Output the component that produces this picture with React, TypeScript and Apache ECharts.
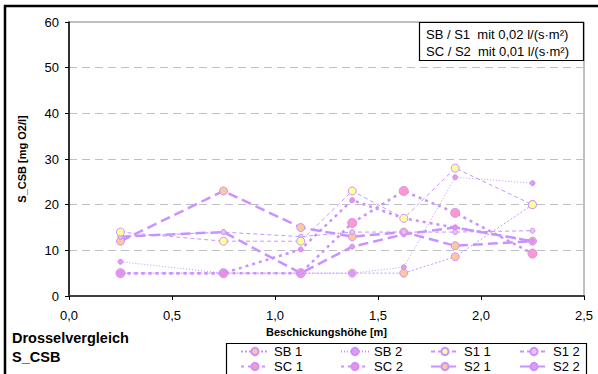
import React, { useEffect, useRef } from "react";
import * as echarts from "echarts";

const xValues = [0.25, 0.75, 1.125, 1.375, 1.625, 1.875, 2.25];
const seriesNames = ["SB 1", "SB 2", "S1 1", "S1 2", "SC 1", "SC 2", "S2 1", "S2 2"];
const sb1 = [5, 5, 5, 5, 5, 8.6, 20];
const sb2 = [7.5, 5, 5, 5, 6.3, 26, 24.7];
const s11 = [14, 12, 12, 23, 17, 28, 20];
const s12 = [13, 14, 13, 14, 14, 14, 14.3];
const sc1 = [5, 5, 5, 16, 23, 18.2, 9.3];
const sc2 = [5, 5, 10.2, 21, 17, 15, 12];
const s21 = [12, 23, 15, 13, 14, 11, 12];
const s22 = [13, 14, 5, 10.8, 13.5, 15, 12];
const yTicks = [0, 10, 20, 30, 40, 50, 60];
const xTicks = [0, 0.5, 1, 1.5, 2, 2.5];

const LILAC = "#c993ff";
const FONT = "Liberation Sans, Arial, sans-serif";

export default function App() {
  const ref = useRef<HTMLDivElement>(null);
  useEffect(() => {
    if (!ref.current) return;
    const chart = echarts.init(ref.current, null, { renderer: "svg" });
    const pair = (ys: number[]) => xValues.map((x, i) => [x, ys[i]]);
    const mk = (
      name: string,
      ys: number[],
      width: number,
      dash: number[] | string,
      size: number,
      fill: string,
      z: number
    ) => ({
      name,
      type: "line",
      data: pair(ys),
      symbol: "circle",
      symbolSize: size,
      z,
      lineStyle: { color: LILAC, width, type: dash },
      itemStyle: { color: fill, borderColor: LILAC, borderWidth: 1 },
    });
    const series = [
      mk(seriesNames[0], sb1, 1, [2, 2], 8, "#ffc89a", 2),
      mk(seriesNames[1], sb2, 1, [1, 2], 5, "#e59ae8", 3),
      mk(seriesNames[2], s11, 1, [4, 3], 8, "#ffff99", 4),
      mk(seriesNames[3], s12, 1, [4, 3], 5, "#f0c0f0", 3),
      mk(seriesNames[4], sc1, 2.5, [3, 4], 9, "#ff99cc", 2),
      mk(seriesNames[5], sc2, 2.5, [3, 4], 5, "#f08ee0", 3),
      mk(seriesNames[6], s21, 2.5, [10, 5], 8, "#ffc89a", 2),
      mk(seriesNames[7], s22, 2.5, [10, 5], 5, "#e59ae8", 2),
    ];
    const legendBase = {
      orient: "vertical",
      top: 345,
      itemWidth: 28,
      itemHeight: 9,
      itemGap: 2,
      textStyle: { fontFamily: FONT, fontSize: 13, color: "#000" },
      padding: 0,
    };
    chart.setOption({
      animation: false,
      backgroundColor: "#fff",
      grid: {
        left: 69,
        top: 22,
        right: 14,
        bottom: 78,
        show: true,
        borderColor: "#808080",
        borderWidth: 1,
      },
      xAxis: {
        type: "value",
        min: xTicks[0],
        max: xTicks[xTicks.length - 1],
        interval: 0.5,
        name: "Beschickungshöhe [m]",
        nameLocation: "middle",
        nameGap: 29,
        nameTextStyle: { fontFamily: FONT, fontSize: 11, fontWeight: "bold", color: "#000" },
        axisLine: { lineStyle: { color: "#404040", width: 2 } },
        axisTick: { show: true, length: 4, inside: false, lineStyle: { color: "#000" } },
        axisLabel: {
          fontFamily: FONT,
          fontSize: 13,
          color: "#000",
          margin: 13,
          formatter: (v: number) => v.toFixed(1).replace(".", ","),
        },
        splitLine: { show: false },
      },
      yAxis: {
        type: "value",
        min: yTicks[0],
        max: yTicks[yTicks.length - 1],
        interval: 10,
        name: "S_CSB [mg O2/l]",
        nameLocation: "middle",
        nameGap: 42,
        nameTextStyle: { fontFamily: FONT, fontSize: 11, fontWeight: "bold", color: "#000" },
        axisLine: { show: true, lineStyle: { color: "#000", width: 1.5 } },
        axisTick: { show: true, length: 4, lineStyle: { color: "#000" } },
        axisLabel: { fontFamily: FONT, fontSize: 13, color: "#000", margin: 10 },
        splitLine: { show: true, lineStyle: { color: "#c0c0c0", type: [8, 5], width: 1 } },
      },
      legend: [
        { ...legendBase, left: 240, data: [seriesNames[0], seriesNames[4]] },
        { ...legendBase, left: 340, data: [seriesNames[1], seriesNames[5]] },
        { ...legendBase, left: 430, data: [seriesNames[2], seriesNames[6]] },
        { ...legendBase, left: 519, data: [seriesNames[3], seriesNames[7]] },
      ],
      graphic: [
        {
          type: "rect",
          shape: { x: 5, y: 6, width: 700, height: 500 },
          style: { fill: "none", stroke: "#000", lineWidth: 2.5 },
          silent: true,
          z: 100,
        },
        {
          type: "rect",
          shape: { x: 226.5, y: 343.5, width: 360, height: 60 },
          style: { fill: "none", stroke: "#000", lineWidth: 1.2 },
          silent: true,
          z: 100,
        },
        {
          type: "rect",
          shape: { x: 419.5, y: 22.5, width: 164, height: 38 },
          style: { fill: "#fff", stroke: "#000", lineWidth: 1.2 },
          z: 100,
        },
        {
          type: "text",
          x: 426,
          y: 34,
          z: 101,
          style: {
            text: "SB / S1  mit 0,02 l/(s·m²)",
            fontFamily: FONT,
            fontSize: 13,
            fill: "#000",
            verticalAlign: "middle",
          },
        },
        {
          type: "text",
          x: 426,
          y: 51,
          z: 101,
          style: {
            text: "SC / S2  mit 0,01 l/(s·m²)",
            fontFamily: FONT,
            fontSize: 13,
            fill: "#000",
            verticalAlign: "middle",
          },
        },
        {
          type: "text",
          x: 12,
          y: 338,
          z: 101,
          style: {
            text: "Drosselvergleich",
            fontFamily: FONT,
            fontSize: 14.5,
            fontWeight: "bold",
            fill: "#000",
            verticalAlign: "middle",
          },
        },
        {
          type: "text",
          x: 12,
          y: 357,
          z: 101,
          style: {
            text: "S_CSB",
            fontFamily: FONT,
            fontSize: 14.5,
            fontWeight: "bold",
            fill: "#000",
            verticalAlign: "middle",
          },
        },
      ],
      series,
    });
    return () => chart.dispose();
  }, []);
  return (
    <div
      ref={ref}
      style={{ position: "fixed", left: 0, top: 0, width: 598, height: 374 }}
    />
  );
}
